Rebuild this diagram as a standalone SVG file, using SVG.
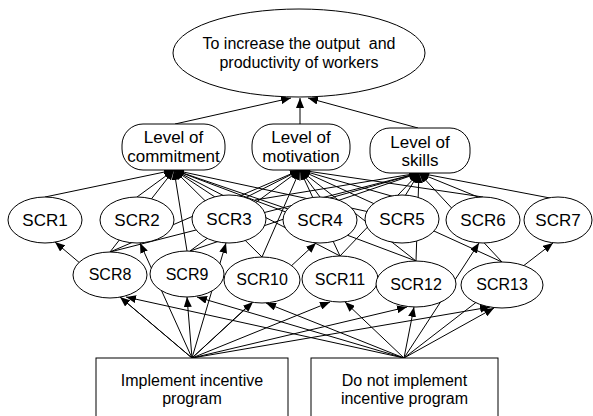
<svg xmlns="http://www.w3.org/2000/svg" width="593" height="416" viewBox="0 0 593 416">
<style>
.n{fill:#fff;stroke:#000;stroke-width:1}
.t{font-family:"Liberation Sans",Arial,sans-serif;font-size:16px;text-anchor:middle;fill:#000}
.t17{font-size:17px}
#connectors line{stroke:#000;stroke-width:1;fill:none}
.a{marker-end:url(#ah)}
</style>
<defs>
<marker id="ah" viewBox="0 0 10 8" refX="10" refY="4" markerWidth="10" markerHeight="8" orient="auto" markerUnits="userSpaceOnUse"><path d="M0,0 L10,4 L0,8 z" fill="#000"/></marker>
</defs>
<rect width="593" height="416" fill="#fff"/>
<g id="connectors">
<!-- to goal -->
<line class="a" x1="175" y1="124" x2="291" y2="98"/>
<line class="a" x1="300" y1="124" x2="300" y2="98"/>
<line class="a" x1="418" y1="128" x2="308" y2="98"/>
<!-- to commitment -->
<line class="a" x1="45" y1="197" x2="174" y2="170"/>
<line class="a" x1="137" y1="197" x2="174" y2="170"/>
<line class="a" x1="110" y1="252" x2="174" y2="170"/>
<line class="a" x1="187" y1="251" x2="174" y2="170"/>
<line class="a" x1="215" y1="197" x2="174" y2="170"/>
<line class="a" x1="320" y1="220" x2="174" y2="170"/>
<line class="a" x1="402" y1="219" x2="174" y2="170"/>
<line class="a" x1="262" y1="257" x2="174" y2="170"/>
<line class="a" x1="340" y1="256" x2="174" y2="170"/>
<line class="a" x1="416" y1="261" x2="174" y2="170"/>
<!-- to motivation -->
<line class="a" x1="110" y1="252" x2="300" y2="170"/>
<line class="a" x1="190" y1="251" x2="300" y2="170"/>
<line class="a" x1="245" y1="198" x2="300" y2="170"/>
<line class="a" x1="262" y1="257" x2="300" y2="170"/>
<line class="a" x1="320" y1="197" x2="300" y2="170"/>
<line class="a" x1="340" y1="256" x2="300" y2="170"/>
<line class="a" x1="395" y1="197" x2="300" y2="170"/>
<line class="a" x1="483" y1="197" x2="300" y2="170"/>
<line class="a" x1="416" y1="261" x2="300" y2="170"/>
<line class="a" x1="502" y1="262" x2="300" y2="170"/>
<!-- to skills -->
<line class="a" x1="550" y1="198" x2="419" y2="173"/>
<line class="a" x1="478" y1="197" x2="419" y2="173"/>
<line class="a" x1="502" y1="262" x2="419" y2="173"/>
<line class="a" x1="416" y1="261" x2="419" y2="173"/>
<line class="a" x1="405" y1="196" x2="419" y2="173"/>
<line class="a" x1="340" y1="256" x2="419" y2="173"/>
<line class="a" x1="330" y1="198" x2="419" y2="173"/>
<line class="a" x1="255" y1="200" x2="419" y2="173"/>
<line class="a" x1="110" y1="252" x2="419" y2="173"/>
<line class="a" x1="190" y1="251" x2="419" y2="173"/>
<!-- from Implement -->
<line class="a" x1="192" y1="358" x2="55" y2="242"/>
<line class="a" x1="192" y1="358" x2="140" y2="243"/>
<line class="a" x1="192" y1="358" x2="226" y2="243"/>
<line class="a" x1="192" y1="358" x2="316" y2="243"/>
<line class="a" x1="192" y1="358" x2="120" y2="297"/>
<line class="a" x1="192" y1="358" x2="187" y2="297"/>
<line class="a" x1="192" y1="358" x2="253" y2="302"/>
<line class="a" x1="192" y1="358" x2="330" y2="302"/>
<line class="a" x1="192" y1="358" x2="407" y2="307"/>
<line class="a" x1="192" y1="358" x2="490" y2="307"/>
<!-- from Do not implement -->
<line class="a" x1="404" y1="358" x2="126" y2="297"/>
<line class="a" x1="404" y1="358" x2="197" y2="297"/>
<line class="a" x1="404" y1="358" x2="266" y2="303"/>
<line class="a" x1="404" y1="358" x2="345" y2="302"/>
<line class="a" x1="404" y1="358" x2="414" y2="307"/>
<line class="a" x1="404" y1="358" x2="494" y2="308"/>
<line class="a" x1="404" y1="358" x2="479" y2="243"/>
<line class="a" x1="404" y1="358" x2="553" y2="243"/>
</g>
<g id="goal">
<ellipse class="n" cx="299" cy="53" rx="126" ry="44"/>
<text class="t" x="299" y="49" xml:space="preserve">To increase the output  and</text>
<text class="t" x="299" y="68">productivity of workers</text>
</g>
<g id="commitment">
<rect class="n" x="122" y="124" width="103" height="46" rx="21" ry="21"/>
<text class="t t17" x="173.5" y="143">Level of</text>
<text class="t t17" x="173.5" y="162">commitment</text>
</g>
<g id="motivation">
<rect class="n" x="252" y="124" width="98" height="46" rx="21" ry="21"/>
<text class="t t17" x="301" y="143">Level of</text>
<text class="t t17" x="301" y="162">motivation</text>
</g>
<g id="skills">
<rect class="n" x="370" y="128" width="100" height="45" rx="20" ry="20"/>
<text class="t t17" x="420" y="148">Level of</text>
<text class="t t17" x="420" y="166">skills</text>
</g>
<g id="scr1"><ellipse class="n" cx="45" cy="220" rx="37" ry="23"/><text class="t t17" x="45" y="226">SCR1</text></g>
<g id="scr2"><ellipse class="n" cx="137" cy="220" rx="37" ry="23"/><text class="t t17" x="137" y="226">SCR2</text></g>
<g id="scr3"><ellipse class="n" cx="229" cy="219" rx="37" ry="24"/><text class="t t17" x="229" y="225">SCR3</text></g>
<g id="scr4"><ellipse class="n" cx="320" cy="220" rx="37" ry="23"/><text class="t t17" x="320" y="226">SCR4</text></g>
<g id="scr5"><ellipse class="n" cx="402" cy="219" rx="37" ry="24"/><text class="t t17" x="402" y="225">SCR5</text></g>
<g id="scr6"><ellipse class="n" cx="483" cy="220" rx="37" ry="23"/><text class="t t17" x="483" y="226">SCR6</text></g>
<g id="scr7"><ellipse class="n" cx="558" cy="220" rx="34" ry="23"/><text class="t t17" x="558" y="226">SCR7</text></g>
<g id="scr8"><ellipse class="n" cx="110" cy="275" rx="37" ry="23"/><text class="t" x="110" y="280">SCR8</text></g>
<g id="scr9"><ellipse class="n" cx="187" cy="274" rx="37" ry="23"/><text class="t" x="187" y="280">SCR9</text></g>
<g id="scr10"><ellipse class="n" cx="262" cy="280" rx="38" ry="23"/><text class="t" x="262" y="285">SCR10</text></g>
<g id="scr11"><ellipse class="n" cx="340" cy="279" rx="38" ry="23"/><text class="t" x="340" y="285">SCR11</text></g>
<g id="scr12"><ellipse class="n" cx="416" cy="284" rx="40" ry="23"/><text class="t" x="416" y="290">SCR12</text></g>
<g id="scr13"><ellipse class="n" cx="502" cy="285" rx="41" ry="23"/><text class="t" x="502" y="290">SCR13</text></g>
<g id="implement">
<rect class="n" x="96" y="358" width="192" height="62"/>
<text class="t" x="192" y="386">Implement incentive</text>
<text class="t" x="192" y="404">program</text>
</g>
<g id="donot">
<rect class="n" x="311" y="358" width="187" height="62"/>
<text class="t" x="404.5" y="386">Do not implement</text>
<text class="t" x="404.5" y="404">incentive program</text>
</g>
</svg>
